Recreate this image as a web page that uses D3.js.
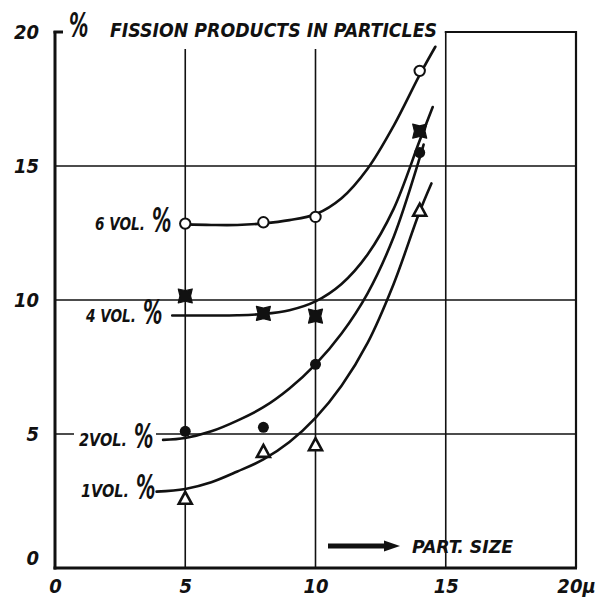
<!DOCTYPE html>
<html>
<head>
<meta charset="utf-8">
<script src="https://cdn.jsdelivr.net/npm/d3@7"></script>
<style>
  html, body { margin: 0; padding: 0; background: #fff; }
  svg { display: block; }
  text { font-family: "DejaVu Sans Condensed", "Liberation Sans Narrow", "DejaVu Sans", sans-serif; font-style: italic; font-weight: bold; fill: #111; }
</style>
</head>
<body>
<svg id="chart" width="604" height="599"></svg>
<script>
// Particle size (µ) at which the samples were measured
const sizes = [5, 8, 10, 14];

// Measured fission-product fractions (%) for each uranium content
const vol6 = [12.85, 12.9, 13.1, 18.55];
const vol4 = [10.15, 9.5, 9.4, 16.3];
const vol2 = [5.1, 5.25, 7.6, 15.5];
const vol1 = [2.6, 4.35, 4.6, 13.35];

// Hand-drawn fitted curves [size, %]
const fit6 = [[5, 12.82], [6, 12.8], [7, 12.8], [8, 12.86], [9, 12.98], [10, 13.2], [11, 13.8], [12, 14.9], [13, 16.5], [14, 18.4], [14.6, 19.45]];
const fit4 = [[4.5, 9.42], [6, 9.42], [7, 9.43], [8, 9.48], [9, 9.62], [10, 9.95], [11, 10.6], [12, 11.7], [13, 13.4], [14, 15.95], [14.5, 17.2]];
const fit2 = [[4.15, 4.78], [5, 4.85], [6, 5.1], [7, 5.5], [8, 6.0], [9, 6.7], [10, 7.6], [11, 8.75], [12, 10.25], [13, 12.35], [14, 15.3], [14.15, 15.8]];
const fit1 = [[3.9, 2.85], [5, 2.95], [6, 3.2], [7, 3.6], [8, 4.05], [9, 4.7], [10, 5.6], [11, 6.8], [12, 8.4], [13, 10.6], [14, 13.3], [14.45, 14.35]];

// Axis ticks and grid
const xTicks = [0, 5, 10, 15, 20];
const yTicks = [0, 5, 10, 15, 20];
const xGrid = [5, 10, 15];
const yGrid = [5, 10, 15];

// Curve labels
const curveLabels = ["6 VOL.", "4 VOL.", "2VOL.", "1VOL."];

const svg = d3.select("#chart");
const x = d3.scaleLinear().domain([0, 20]).range([55, 576]);
const y = d3.scaleLinear().domain([0, 20]).range([568, 32]);

// Grid lines
const grid = svg.append("g").attr("stroke", "#111").attr("stroke-width", 1.6);
xGrid.forEach(v => {
  grid.append("line")
    .attr("x1", x(v)).attr("x2", x(v))
    .attr("y1", v === 15 ? y(20) : 49).attr("y2", y(0));
});
yGrid.forEach(v => {
  grid.append("line")
    .attr("x1", x(0)).attr("x2", x(20))
    .attr("y1", y(v)).attr("y2", y(v));
});

// Frame: thick left and bottom axes, lighter right border, partial top edge
const frame = svg.append("g").attr("stroke", "#111").attr("fill", "none");
frame.append("line").attr("x1", x(0)).attr("x2", x(0)).attr("y1", y(20) - 1).attr("y2", y(0) + 1.5).attr("stroke-width", 3);
frame.append("line").attr("x1", x(0) - 1.5).attr("x2", x(20) + 1).attr("y1", y(0)).attr("y2", y(0)).attr("stroke-width", 3);
frame.append("line").attr("x1", x(20)).attr("x2", x(20)).attr("y1", y(20) - 1).attr("y2", y(0)).attr("stroke-width", 2.2);
frame.append("line").attr("x1", x(15) - 1).attr("x2", x(20) + 1).attr("y1", y(20)).attr("y2", y(20)).attr("stroke-width", 2.2);
frame.append("line").attr("x1", x(0) - 1.5).attr("x2", x(0) + 8).attr("y1", y(20)).attr("y2", y(20)).attr("stroke-width", 3);

// Axis tick labels
const xAxis = d3.axisBottom(x).tickValues(xTicks).tickSize(0).tickPadding(11)
  .tickFormat(d => d === 20 ? "20\u00b5" : d);
const gx = svg.append("g").attr("transform", `translate(0,${y(0)})`).call(xAxis);
gx.select(".domain").remove();
gx.selectAll("text").attr("font-size", 20).attr("font-family", null);

const yAxis = d3.axisLeft(y).tickValues(yTicks).tickSize(0).tickPadding(16);
const gy = svg.append("g").attr("transform", `translate(${x(0)},0)`).call(yAxis);
gy.select(".domain").remove();
gy.selectAll("text").attr("font-size", 20).attr("font-family", null)
  .attr("dy", d => d === 0 ? "-0.2em" : "0.3em");

// Tall, narrow percent sign used in the title and curve labels
function percent(px, py) {
  svg.append("text")
    .attr("transform", `translate(${px},${py}) scale(0.72,1.12)`)
    .attr("font-size", 30).attr("text-anchor", "start")
    .text("%");
}

// Title
percent(69, 37);
svg.append("text").attr("x", 110).attr("y", 37).attr("font-size", 19)
  .attr("textLength", 327).attr("lengthAdjust", "spacingAndGlyphs")
  .text("FISSION PRODUCTS IN PARTICLES");

// Fitted curves
const line = d3.line().x(d => x(d[0])).y(d => y(d[1])).curve(d3.curveCatmullRom.alpha(0.5));
const curves = svg.append("g").attr("fill", "none").attr("stroke", "#111").attr("stroke-width", 2.6).attr("stroke-linecap", "round");
[fit6, fit4, fit2, fit1].forEach(f => curves.append("path").attr("d", line(f)));

// Markers
const pts = (vals) => sizes.map((s, i) => [s, vals[i]]);
const marks = svg.append("g");

marks.selectAll(".c6").data(pts(vol6)).join("circle")
  .attr("cx", d => x(d[0])).attr("cy", d => y(d[1])).attr("r", 5.2)
  .attr("fill", "#fff").attr("stroke", "#111").attr("stroke-width", 2);

const starPath = "M-7,-7 L0,-5.3 L7,-7 L5.3,0 L7,7 L0,5.3 L-7,7 L-5.3,0 Z";
marks.selectAll(".c4").data(pts(vol4)).join("path")
  .attr("d", starPath)
  .attr("transform", d => `translate(${x(d[0])},${y(d[1])})`)
  .attr("fill", "#111").attr("stroke", "#111").attr("stroke-width", 1.2).attr("stroke-linejoin", "round");

marks.selectAll(".c2").data(pts(vol2)).join("circle")
  .attr("cx", d => x(d[0])).attr("cy", d => y(d[1])).attr("r", 5.5)
  .attr("fill", "#111");

const triPath = "M0,-6.5 L6.5,5.5 L-6.5,5.5 Z";
marks.selectAll(".c1").data(pts(vol1)).join("path")
  .attr("d", triPath)
  .attr("transform", d => `translate(${x(d[0])},${y(d[1])})`)
  .attr("fill", "#fff").attr("stroke", "#111").attr("stroke-width", 2.6).attr("stroke-linejoin", "miter");

// Curve labels, each followed by a tall percent sign
const labelPos = [
  { x0: 95, w: 50, base: 230 },
  { x0: 86, w: 50, base: 322 },
  { x0: 79, w: 48, base: 446 },
  { x0: 81, w: 48, base: 497 }
];
// the 5 % grid line runs behind the "2VOL.%" label
svg.append("rect").attr("x", 74).attr("y", 428).attr("width", 82).attr("height", 14).attr("fill", "#fff");
curveLabels.forEach((txt, i) => {
  const p = labelPos[i];
  svg.append("text").attr("x", p.x0).attr("y", p.base).attr("font-size", 18)
    .attr("textLength", p.w).attr("lengthAdjust", "spacingAndGlyphs").text(txt);
  percent(p.x0 + p.w + 7, p.base + 2);
});

// Particle size direction arrow
const arrow = svg.append("g");
arrow.append("line").attr("x1", 328).attr("x2", 388).attr("y1", 546).attr("y2", 546)
  .attr("stroke", "#111").attr("stroke-width", 5);
arrow.append("path").attr("d", "M384,540.5 L400,546 L384,551.5 Z").attr("fill", "#111");
svg.append("text").attr("x", 412).attr("y", 553).attr("font-size", 18)
  .attr("textLength", 101).attr("lengthAdjust", "spacingAndGlyphs").text("PART. SIZE");
</script>
</body>
</html>
